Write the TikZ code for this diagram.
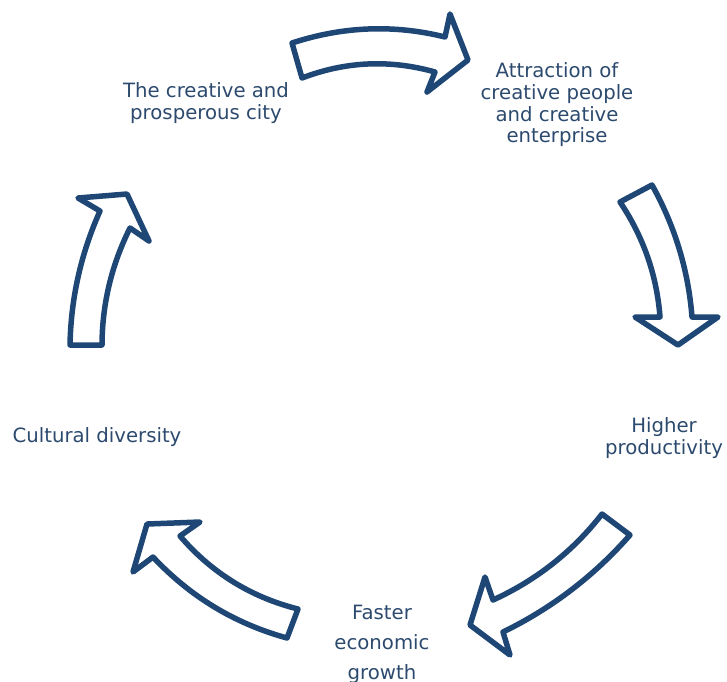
\documentclass[tikz,border=0pt]{standalone}
\usepackage{fontspec}
\setmainfont{DejaVu Sans}
\definecolor{arrowblue}{RGB}{31,71,118}
\definecolor{textblue}{RGB}{44,74,110}
\tikzset{cyclearrow/.style={draw=arrowblue, fill=white, line width=5.5pt, line join=round},
  every node/.style={text=textblue, align=center, inner sep=0pt, font=\fontsize{19.7}{21.7}\selectfont}}

\begin{document}
\begin{tikzpicture}[x=1pt,y=-1pt]
   \useasboundingbox (0,0) rectangle (727,681);
   % block arrows round the cycle
   \draw[cyclearrow]
    (292,43) -- (302,78) .. controls (345.6,61.3) and (390,59.3) .. (435,72) -- (427,92) -- (468,60) -- (450,14) -- (445,37)
    .. controls (394,24.3) and (343,26.3) .. (292,43) -- cycle;
   \draw[cyclearrow]
    (620,202) -- (652,185) .. controls (674.9,226.1) and (688.3,270.1) .. (692,317) -- (718,317) -- (678,345) -- (635,317) -- (660,317)
    .. controls (656.8,275.2) and (643.4,236.8) .. (620,202) -- cycle;
   \draw[cyclearrow]
    (602,514) -- (630,535) .. controls (594.2,575.8) and (551.8,608.2) .. (503,632) -- (510,655) -- (470,625) -- (485,577) -- (493,600)
    .. controls (536.3,580.2) and (572.7,551.6) .. (602,514) -- cycle;
   \draw[cyclearrow]
    (298,609) -- (287,638) .. controls (234.7,623.6) and (190.1,596.6) .. (153,557) -- (133,572) -- (147,524) -- (200,522) -- (180,536)
    .. controls (211.6,572.8) and (251,597.2) .. (298,609) -- cycle;
   \draw[cyclearrow]
    (70,345) -- (102,345) .. controls (102.2,303.8) and (111.6,264.8) .. (130,228) -- (149,241) -- (127,194) -- (78,198) -- (100,211)
    .. controls (80.9,253.7) and (70.9,298.3) .. (70,345) -- cycle;
   % labels
   \node (city) at (206,103) {The creative and\\prosperous city};
   \node (attract) at (557,105) {Attraction of\\creative people\\and creative\\enterprise};
   \node (prod) at (664,438) {Higher\\productivity};
   \node[font=\fontsize{19.7}{30}\selectfont] (growth) at (382,644) {Faster\\economic\\growth};
   \node (culture) at (97,437) {Cultural diversity};
\end{tikzpicture}
\end{document}
